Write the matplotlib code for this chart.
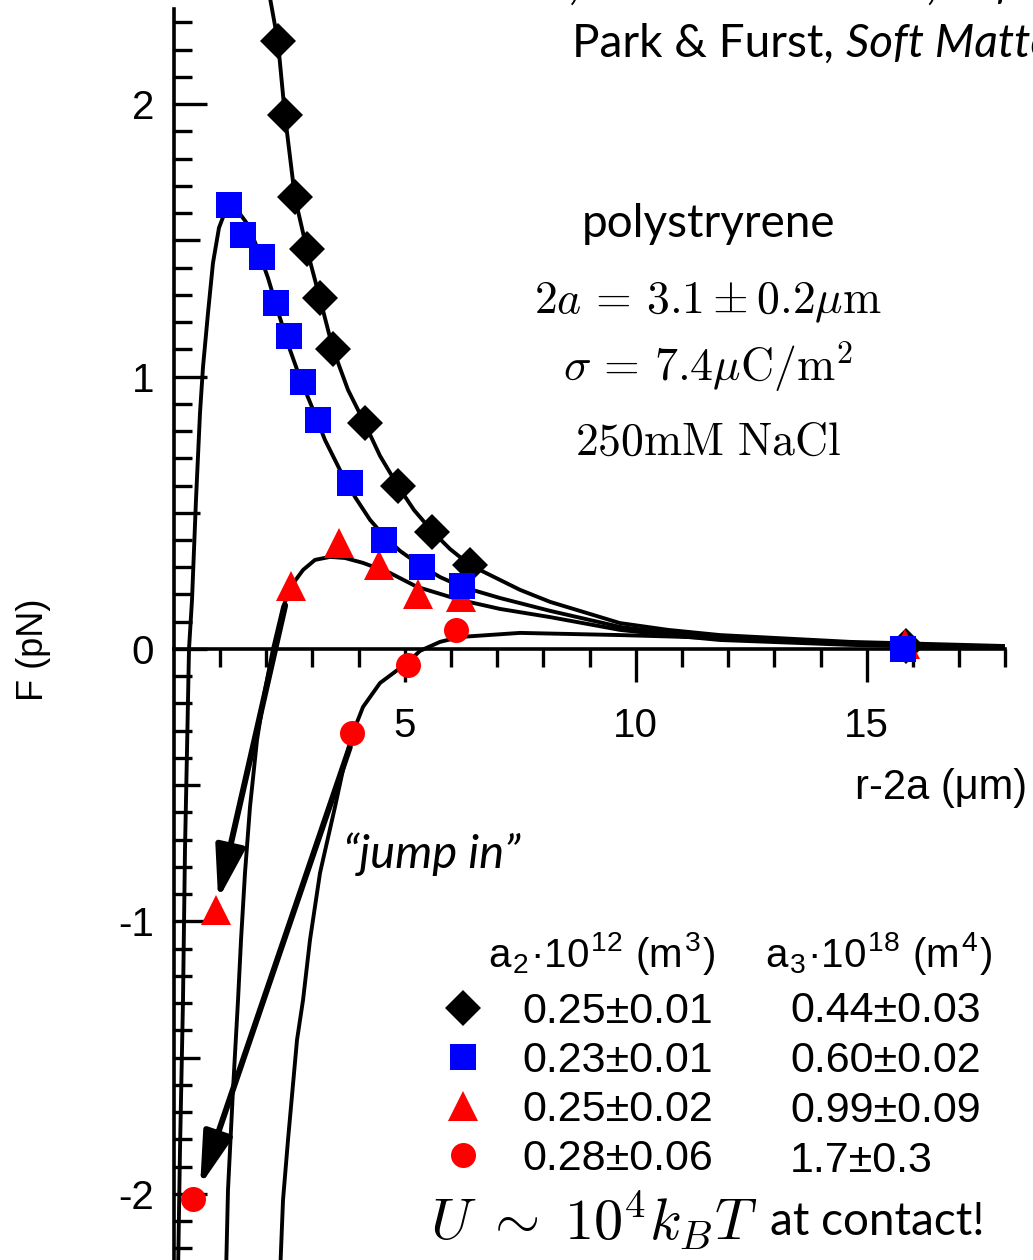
import matplotlib.pyplot as plt
import numpy as np
from matplotlib.ticker import FixedLocator

plt.rcParams['font.family'] = ['Liberation Sans', 'DejaVu Sans']
plt.rcParams['mathtext.fontset'] = 'cm'
plt.rcParams['axes.unicode_minus'] = False

# measured points, r-2a (um) vs F (pN)
dia_x = [2.26, 2.41, 2.62, 2.88, 3.17, 3.45, 4.14, 4.85, 5.59, 6.41, 15.84]
dia_y = [2.23, 1.96, 1.66, 1.47, 1.29, 1.10, 0.83, 0.60, 0.43, 0.31, 0.01]
sq_x = [1.20, 1.50, 1.91, 2.21, 2.49, 2.80, 3.12, 3.81, 4.55, 5.37, 6.24, 15.78]
sq_y = [1.63, 1.52, 1.44, 1.27, 1.15, 0.98, 0.84, 0.61, 0.40, 0.30, 0.23, 0.00]
tri_x = [0.91, 2.54, 3.58, 4.44, 5.29, 6.22, 15.83]
tri_y = [-0.96, 0.23, 0.39, 0.31, 0.20, 0.19, 0.02]
circ_x = [0.41, 3.86, 5.06, 6.10]
circ_y = [-2.02, -0.31, -0.06, 0.07]

# fitted curves
fit_dia_x = [2.05, 2.255, 2.407, 2.623, 2.883, 3.165, 3.446, 3.771, 4.139, 4.463, 4.853,
             5.199, 5.589, 5.978, 6.411, 7.494, 8.143, 9.658, 10.7, 11.82, 14.64, 17.95]
fit_dia_y = [2.42, 2.228, 1.957, 1.656, 1.465, 1.285, 1.101, 0.951, 0.826, 0.709, 0.598,
             0.510, 0.433, 0.367, 0.308, 0.217, 0.173, 0.095, 0.070, 0.051, 0.026, 0.011]
fit_sq_x = [0.091, 0.134, 0.199, 0.242, 0.286, 0.329, 0.394, 0.48, 0.567, 0.632, 0.74,
            0.848, 0.978, 1.108, 1.26, 1.433, 1.606, 1.823, 2.039, 2.299, 2.515, 2.732,
            2.991, 3.273, 3.597, 3.922, 4.247, 4.571, 4.896, 5.329, 5.762, 6.238, 7.061,
            8.143, 9.658, 10.7, 11.82, 14.64, 17.95]
fit_sq_y = [-2.298, -1.839, -1.289, -0.738, -0.371, 0.0, 0.180, 0.547, 0.866, 1.035, 1.233,
            1.417, 1.546, 1.604, 1.612, 1.597, 1.557, 1.465, 1.362, 1.215, 1.098, 0.995,
            0.888, 0.767, 0.657, 0.558, 0.474, 0.411, 0.360, 0.308, 0.264, 0.228, 0.187,
            0.140, 0.081, 0.059, 0.040, 0.018, 0.007]
fit_tri_x = [1.13, 1.173, 1.281, 1.39, 1.455, 1.541, 1.649, 1.801, 1.974, 2.147, 2.364,
             2.558, 2.797, 3.056, 3.381, 3.706, 4.095, 4.68, 5.264, 6.195, 7.061, 8.143,
             9.658, 10.7, 11.82, 14.64, 17.95]
fit_tri_y = [-2.298, -1.986, -1.619, -1.289, -1.068, -0.822, -0.580, -0.334, -0.151, 0.0,
             0.154, 0.235, 0.290, 0.327, 0.338, 0.334, 0.316, 0.279, 0.228, 0.180, 0.147,
             0.117, 0.070, 0.051, 0.033, 0.015, 0.004]
fit_circ_x = [2.299, 2.364, 2.472, 2.667, 2.797, 2.948, 3.165, 3.489, 3.662, 3.857, 4.095,
              4.463, 4.788, 5.069, 5.329, 5.762, 6.195, 7.494, 9.658, 10.7, 11.82, 14.64,
              17.95]
fit_circ_y = [-2.298, -2.023, -1.802, -1.435, -1.289, -1.068, -0.822, -0.580, -0.444,
              -0.316, -0.213, -0.125, -0.084, -0.048, -0.007, 0.026, 0.044, 0.059, 0.051,
              0.046, 0.040, 0.022, 0.007]

# "jump in" arrows: (tail, head)
jump_tail = [(2.41, 0.16), (3.81, -0.36)]
jump_head = [(0.96, -0.92), (0.57, -1.97)]

a2_labels = ['0.25±0.01', '0.23±0.01', '0.25±0.02', '0.28±0.06']
a3_labels = ['0.44±0.03', '0.60±0.02', '0.99±0.09', '1.7±0.3']

fig = plt.figure(figsize=(10.33, 12.6), dpi=100)
ax = fig.add_axes([0.16825, -0.05556, 0.80503, 1.0702])
ax.set_xlim(0, 18)
ax.set_ylim(-2.5, 2.45)

lw = 2.8
for fx, fy in [(fit_dia_x, fit_dia_y), (fit_sq_x, fit_sq_y),
               (fit_tri_x, fit_tri_y), (fit_circ_x, fit_circ_y)]:
    ax.plot(fx, fy, color='black', lw=lw, zorder=2, solid_joinstyle='round')

for (x0, y0), (x1, y1) in zip(jump_tail, jump_head):
    ax.annotate('', xy=(x1, y1), xytext=(x0, y0),
                arrowprops=dict(arrowstyle='-|>,head_length=1.6,head_width=0.45',
                                color='black', lw=4.3, shrinkA=0, shrinkB=0,
                                mutation_scale=20), zorder=3)

h_dia, = ax.plot(dia_x, dia_y, 'D', color='black', ms=18.7, mew=0, zorder=4)
h_tri, = ax.plot(tri_x, tri_y, '^', color='red', ms=22, mew=0, zorder=4)
h_circ, = ax.plot(circ_x, circ_y, 'o', color='red', ms=18, mew=0, zorder=4)
h_sq, = ax.plot(sq_x, sq_y, 's', color='blue', ms=18.7, mew=0, zorder=5)

# axes styling
for s in ['top', 'right']:
    ax.spines[s].set_visible(False)
ax.spines['bottom'].set_position(('data', 0))
ax.spines['left'].set_bounds(-2.5, 2.35)
ax.spines['left'].set_linewidth(2.6)
ax.spines['bottom'].set_linewidth(2.6)

ax.set_xticks([5, 10, 15])
ax.xaxis.set_minor_locator(FixedLocator([v for v in range(1, 19) if v % 5]))
ax.tick_params(axis='x', which='major', direction='out', length=24, width=2.4,
               labelsize=29, pad=18)
ax.tick_params(axis='x', which='minor', direction='out', length=13, width=2.4)

yt = [-2.5, -2, -1.5, -1, -0.5, 0, 0.5, 1, 1.5, 2]
ax.set_yticks(yt, labels=[f'{v:g}' if v == int(v) else '' for v in yt])
ax.yaxis.set_minor_locator(FixedLocator([v / 10 for v in range(-25, 24) if v % 5]))
ax.tick_params(axis='y', which='major', direction='in', length=24, width=2.4,
               labelsize=29, pad=14)
ax.tick_params(axis='y', which='minor', direction='in', length=13, width=2.4)
for t, v in zip(ax.yaxis.get_major_ticks(), yt):
    if v != int(v):
        t.tick1line.set_markersize(19)

ax.set_ylabel('F (pN)', fontsize=26)
ax.yaxis.set_label_coords(-0.1477, 0.5043)
ax.set_xlabel('r-2a (μm)', fontsize=30)
ax.xaxis.set_label_coords(0.923, 0.4168)

# annotations
gill = ['Lato', 'DejaVu Sans']
t1 = fig.text(0.4627, 1.0008, 'Park, Vermant & Furst,', family=gill, fontsize=33,
              va='baseline')
ax.annotate('Soft Matter', xy=(1, 0), xycoords=t1, xytext=(9, 0),
            textcoords='offset points', va='bottom', family=gill, fontsize=33,
            style='italic', annotation_clip=False)
t2 = fig.text(0.5537, 0.9548, 'Park & Furst,', family=gill, fontsize=33, va='baseline')
ax.annotate('Soft Matter', xy=(1, 0), xycoords=t2, xytext=(9, 0),
            textcoords='offset points', va='bottom', family=gill, fontsize=33,
            style='italic', annotation_clip=False)

fig.text(0.6854, 0.8119, 'polystryrene', family=gill, fontsize=33, ha='center',
         va='baseline')
fig.text(0.6854, 0.7516, r'$2a \,=\, 3.1 \pm 0.2\mu\mathrm{m}$', fontsize=33, ha='center',
         va='baseline')
fig.text(0.6854, 0.6976, r'$\sigma \,=\, 7.4\mu\mathrm{C/m}^2$', fontsize=33, ha='center',
         va='baseline')
fig.text(0.6854, 0.6389, r'$\mathrm{250mM\ NaCl}$', fontsize=33, ha='center',
         va='baseline')
fig.text(0.332, 0.3111, '\u201cjump in\u201d', family=gill, fontsize=34, style='italic',
         va='baseline')

# parameter table
fig.text(0.4724, 0.2317, r'a$_\mathregular{2}$·10$^\mathregular{12}$ (m$^\mathregular{3}$)',
         fontsize=29, va='baseline')
fig.text(0.7406, 0.2317, r'a$_\mathregular{3}$·10$^\mathregular{18}$ (m$^\mathregular{4}$)',
         fontsize=29, va='baseline')
leg = ax.legend([h_dia, h_sq, h_tri, h_circ], a2_labels, loc='upper left',
                bbox_to_anchor=(443 / 1033, 0.2130), bbox_transform=fig.transFigure,
                frameon=False, fontsize=31, handlelength=0.95, handletextpad=0.9,
                labelspacing=0.213, borderpad=0, borderaxespad=0, numpoints=1)
row_base = [0.1889, 0.1492, 0.1095, 0.0698]
for lab, yb in zip(a3_labels, row_base):
    fig.text(0.7648, yb, lab, fontsize=31, va='baseline')

fig.text(0.4163, 0.0159, r'$U \;\sim\; 10^4 k_B T$', fontsize=42, va='baseline')
fig.text(0.7454, 0.0198, 'at contact!', family=gill, fontsize=33, va='baseline')

fig.savefig('out.png', dpi=100)
